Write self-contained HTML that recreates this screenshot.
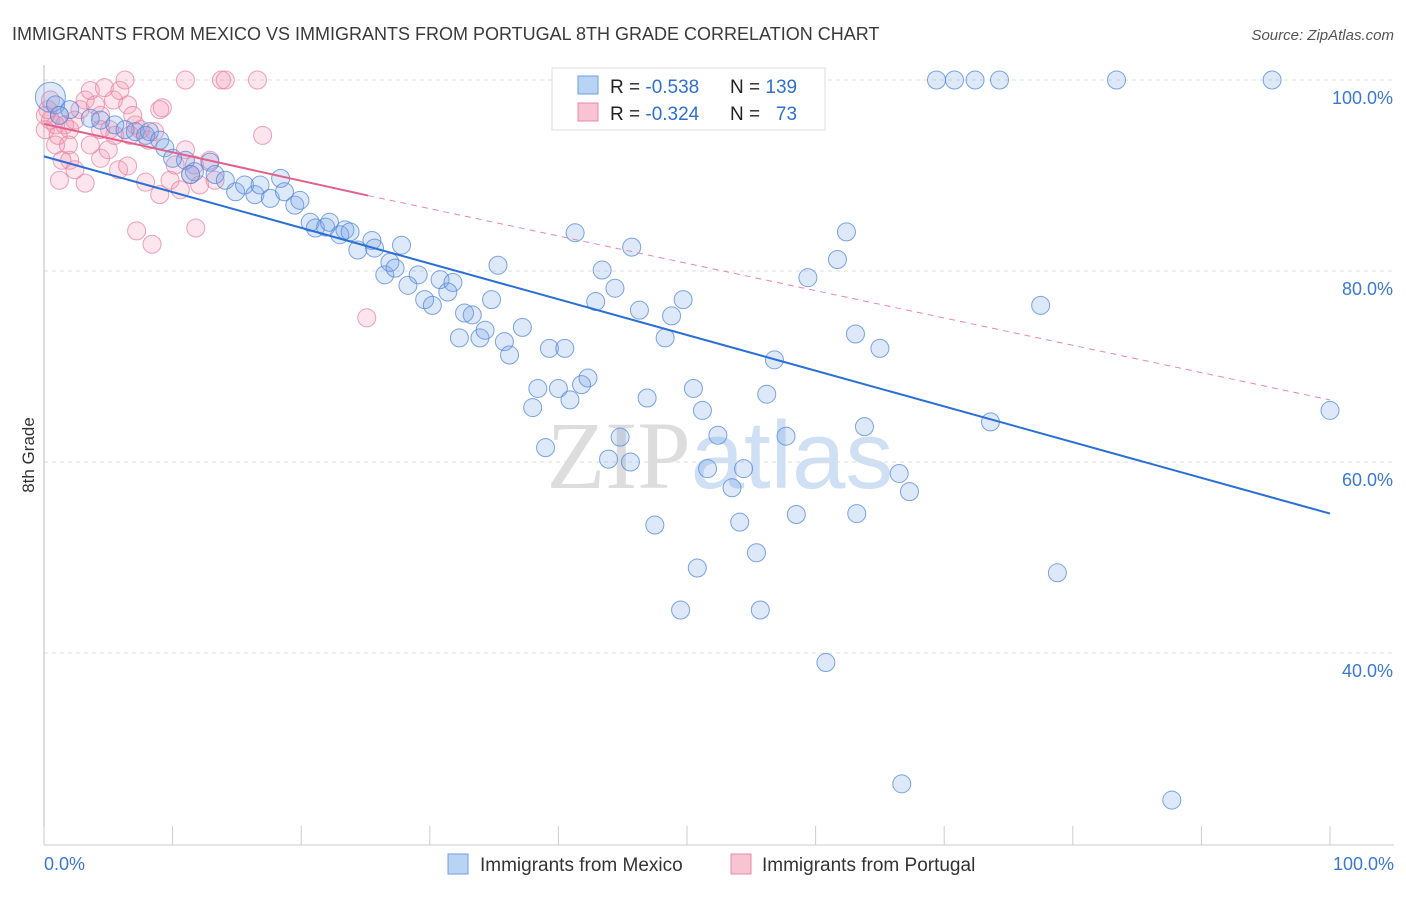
<!DOCTYPE html>
<html><head><meta charset="utf-8"><style>
body{margin:0;background:#fff;font-family:"Liberation Sans",sans-serif}
</style></head><body>
<svg id="c" width="1406" height="892" xmlns="http://www.w3.org/2000/svg">
<text x="12" y="40" font-size="18" fill="#3a3a3a">IMMIGRANTS FROM MEXICO VS IMMIGRANTS FROM PORTUGAL 8TH GRADE CORRELATION CHART</text>
<text x="1394" y="40" font-size="15" fill="#555" font-style="italic" text-anchor="end">Source: ZipAtlas.com</text>
<text x="720" y="488" font-size="96" fill="#ddd" text-anchor="middle" font-family="Liberation Serif">ZIP<tspan fill="#cfe0f4" font-family="Liberation Sans">atlas</tspan></text>
<text transform="translate(34,455) rotate(-90)" font-size="17" fill="#333" text-anchor="middle">8th Grade</text>
<g id="grid"></g><g id="ticks"></g><g id="pts"></g><g id="lines"></g>
<g>
<rect x="552" y="68" width="273" height="62" fill="#fff" stroke="#ddd"/>
<rect x="578" y="76" width="20" height="18" fill="#b9d3f5" stroke="#6d9fe0"/>
<rect x="578" y="103" width="20" height="18" fill="#f8c3d2" stroke="#e88aa6"/>
<text x="610" y="93" font-size="19" fill="#222">R = <tspan fill="#2f6fd0">-0.538</tspan></text>
<text x="730" y="93" font-size="19" fill="#222">N = <tspan fill="#2f6fd0">139</tspan></text>
<text x="610" y="120" font-size="19" fill="#222">R = <tspan fill="#2f6fd0">-0.324</tspan></text>
<text x="730" y="120" font-size="19" fill="#222">N = <tspan fill="#2f6fd0">&#160; 73</tspan></text>
</g>
<g>
<rect x="448" y="854" width="20" height="20" fill="#b9d3f5" stroke="#6d9fe0"/>
<text x="480" y="871" font-size="19" fill="#333">Immigrants from Mexico</text>
<rect x="731" y="854" width="20" height="20" fill="#f8c3d2" stroke="#e88aa6"/>
<text x="762" y="871" font-size="19" fill="#333">Immigrants from Portugal</text>
</g>
</svg>
<script>
const yTicks=[100,80,60,40];
const yTickLabels=["100.0%","80.0%","60.0%","40.0%"];
const xTickLabels=["0.0%","100.0%"];
const mexX=[0.5,0.9,2.0,1.2,3.6,4.4,5.5,6.3,7.1,7.9,8.2,9.0,9.4,11.0,10.0,12.9,11.7,11.4,13.3,14.1,14.9,15.6,16.4,16.8,17.6,18.4,18.7,19.5,19.9,20.7,21.1,21.9,22.2,23.0,23.4,23.8,24.4,25.5,25.7,26.5,26.9,27.3,27.8,28.3,29.1,29.6,30.2,30.8,31.4,31.8,32.7,33.3,33.9,34.3,32.3,34.8,35.3,35.8,36.2,37.2,38.0,38.4,39.0,39.3,40.0,40.5,40.9,41.8,42.3,41.3,42.9,43.4,43.9,44.4,44.8,45.6,45.7,46.3,46.9,47.5,48.3,48.8,49.5,49.7,50.5,50.8,51.2,51.6,52.4,53.5,54.1,54.4,55.4,55.7,56.2,56.8,57.7,58.5,59.4,60.8,61.7,62.4,63.1,63.2,63.8,65.0,66.5,66.7,67.3,69.4,70.8,72.4,74.3,73.6,77.5,78.8,83.4,87.7,95.5,100,47.7,59.2,60.0];
const mexY=[98.2,97.4,96.9,96.3,96.0,95.8,95.3,94.8,94.6,94.2,94.6,93.7,92.9,91.6,91.8,91.4,90.4,90.1,90.1,89.5,88.3,89.0,88.0,89.0,87.6,89.7,88.3,86.9,87.4,85.1,84.5,84.6,85.1,83.8,84.3,84.1,82.2,83.2,82.4,79.6,80.9,80.3,82.7,78.5,79.6,77.0,76.4,79.1,77.8,78.8,75.6,75.4,73.0,73.8,73.0,77.0,80.6,72.6,71.2,74.1,65.7,67.7,61.5,71.9,67.7,71.9,66.5,68.1,68.8,84.0,76.8,80.1,60.3,78.2,62.6,60.0,82.5,75.9,66.7,53.4,73.0,75.3,44.5,77.0,67.7,48.9,65.4,59.3,62.8,57.3,53.7,59.3,50.5,44.5,67.1,70.7,62.7,54.5,79.3,39.0,81.2,84.1,73.4,54.6,63.7,71.9,58.8,26.3,56.9,100,100,100,100,64.2,76.4,48.4,100,24.6,100,65.4,100,100,100];
const porX=[0.5,0.1,0.3,0.9,1.2,1.6,2.0,2.4,2.8,3.2,3.6,4.0,4.4,4.7,5.1,5.5,5.9,6.3,6.5,6.7,7.1,7.5,8.1,8.6,9.0,9.2,9.8,10.2,10.6,11.0,11.4,11.7,12.1,12.9,13.3,11.8,13.8,14.1,11.0,16.6,17.0,7.2,8.4,25.1,1.2,2.0,3.2,2.4,4.4,3.6,5.0,1.4,0.9,0.1,0.5,1.1,1.9,5.8,6.5,7.9,9.0,4.4,5.4,6.9];
const porY=[95.8,94.8,96.9,95.3,96.3,95.3,94.8,95.8,96.9,97.9,98.9,97.4,96.3,99.2,94.8,94.2,98.9,100,97.4,94.2,95.3,94.8,93.7,94.6,96.9,97.1,89.5,91.1,88.5,92.7,90.1,91.1,89.0,91.6,89.5,84.5,100,100,100,100,94.2,84.2,82.8,75.1,89.5,91.6,89.2,90.6,91.8,93.2,92.7,91.6,93.2,96.3,97.9,94.2,93.2,90.6,91.0,89.3,88.0,94.8,97.9,96.3];
const mexTrend=[[0,92.0],[100,54.6]];
const porTrend=[[0,95.4],[25.2,87.9],[100,66.5]];
const X=v=>44+v*12.86, Y=v=>1035-v*9.55;
const NS='http://www.w3.org/2000/svg';
function mk(t,a,p){const e=document.createElementNS(NS,t);for(const k in a)e.setAttribute(k,a[k]);p.appendChild(e);return e;}
const grid=document.getElementById('grid'),ticks=document.getElementById('ticks'),pts=document.getElementById('pts'),lines=document.getElementById('lines');
yTicks.forEach((v,i)=>{
 const l=mk('line',{x1:44,x2:1394,y1:Y(v),y2:Y(v),stroke:'#ddd','stroke-dasharray':'4,4'},grid);
 
 
 const t=mk('text',{x:1393,y:Y(v)+24,'font-size':18,fill:'#3a78d4','text-anchor':'end'},ticks);
 t.textContent=yTickLabels[i];
 
 
});
const ax=mk('line',{x1:44,x2:44,y1:65,y2:845,stroke:'#bbb'},ticks);


const bx=mk('line',{x1:44,x2:1394,y1:845,y2:845,stroke:'#ccc'},ticks);


for(let i=0;i<=10;i++){const t=mk('line',{x1:X(i*10),x2:X(i*10),y1:826,y2:845,stroke:'#ccc'},ticks);
 
 }
const xl0=mk('text',{x:44,y:870,'font-size':18,fill:'#3a78d4'},ticks);xl0.textContent=xTickLabels[0];


const xl1=mk('text',{x:1394,y:870,'font-size':18,fill:'#3a78d4','text-anchor':'end'},ticks);xl1.textContent=xTickLabels[1];


porX.forEach((v,i)=>{const c=mk('circle',{cx:X(v),cy:Y(porY[i]),r:9,fill:'rgba(244,150,178,0.25)',stroke:'rgba(234,130,162,0.75)','stroke-width':1},pts);
 
 });
mexX.forEach((v,i)=>{const c=mk('circle',{cx:X(v),cy:Y(mexY[i]),r:i==0?15:9,fill:'rgba(120,165,230,0.25)',stroke:'rgba(80,135,220,0.75)','stroke-width':1},pts);
 
 });
const ml=mk('line',{x1:X(mexTrend[0][0]),y1:Y(mexTrend[0][1]),x2:X(mexTrend[1][0]),y2:Y(mexTrend[1][1]),stroke:'#2a6fd6','stroke-width':2},lines);


const pl=mk('line',{x1:X(porTrend[0][0]),y1:Y(porTrend[0][1]),x2:X(porTrend[1][0]),y2:Y(porTrend[1][1]),stroke:'#e2608c','stroke-width':2},lines);


const pd=mk('line',{x1:X(porTrend[1][0]),y1:Y(porTrend[1][1]),x2:X(porTrend[2][0]),y2:Y(porTrend[2][1]),stroke:'#e889a8','stroke-width':1,'stroke-dasharray':'6,5'},lines);


</script>
</body></html>
